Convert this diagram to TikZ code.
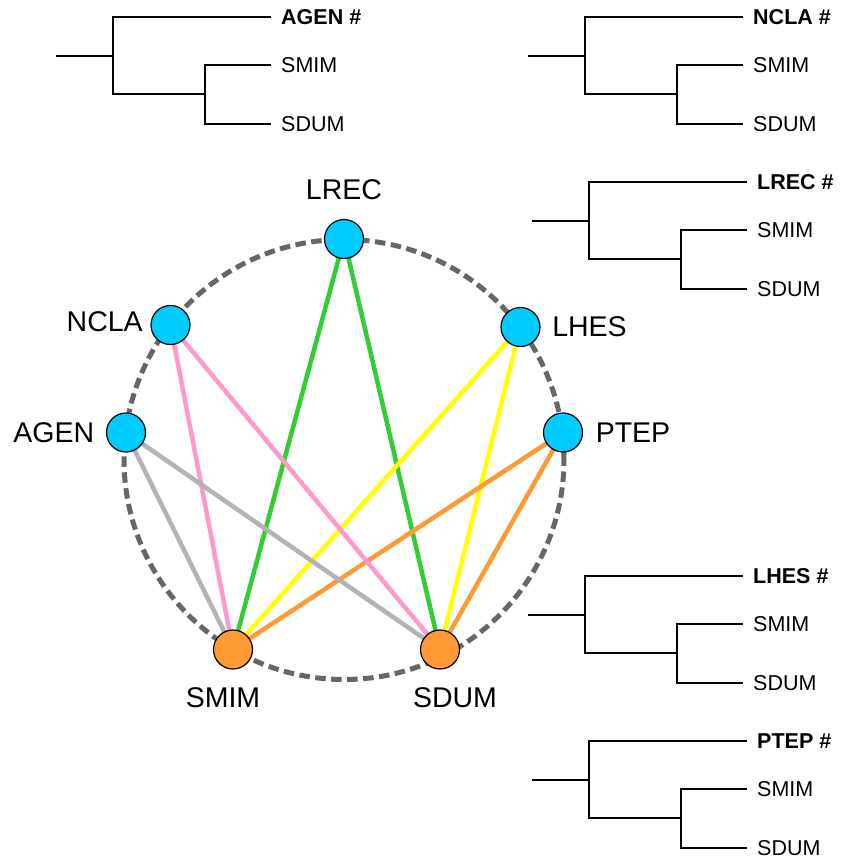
\documentclass[tikz,border=0pt]{standalone}
\usepackage{fontspec}
\setmainfont{Liberation Sans}
\usetikzlibrary{positioning, backgrounds}
\definecolor{sitecyan}{HTML}{00CCFF}
\definecolor{siteorange}{HTML}{FF9933}
\definecolor{ringgray}{HTML}{666666}
\definecolor{lgreen}{HTML}{33CC33}
\definecolor{lpink}{HTML}{FF99CC}
\definecolor{lgray}{HTML}{B3B3B3}
\definecolor{lyellow}{HTML}{FFFF00}
\definecolor{lorange}{HTML}{FF9933}

\begin{document}
\begin{tikzpicture}[x=1pt, y=-1pt,
        site/.style={circle, draw, line width=1.2pt, inner sep=0pt, minimum size=39pt},
        journal/.style={site, fill=sitecyan},
        author/.style={site, fill=siteorange},
        tag/.style={inner sep=0pt, font=\fontsize{28.5}{30}\selectfont},
        leaf/.style={anchor=west, inner xsep=10pt, inner ysep=0pt, font=\fontsize{21.5}{23}\selectfont},
        branch/.style={line width=2.4pt},
        ring/.style={draw=ringgray, line width=5pt, dash pattern=on 10.5pt off 5.5pt},
        link/.style={line width=4.5pt}]
        \useasboundingbox (0,0) rectangle (854,863);
        \coordinate (hub) at (344,459.5);
        \node[journal] (lrec) at (344,239) {};
        \node[journal] (ncla) at (170.5,325) {};
        \node[journal] (lhes) at (520.5,327) {};
        \node[journal] (agen) at (126,432.5) {};
        \node[journal] (ptep) at (563,432.5) {};
        \node[author] (smim) at (233,649.5) {};
        \node[author] (sdum) at (440,649.5) {};
        \node[tag, above=18.5pt of lrec] (lrec-l) {LREC};
        \node[tag, left=7.5pt of ncla, yshift=3pt] (ncla-l) {NCLA};
        \node[tag, left=11.5pt of agen] (agen-l) {AGEN};
        \node[tag, right=11.5pt of lhes] (lhes-l) {LHES};
        \node[tag, right=12.5pt of ptep] (ptep-l) {PTEP};
        \node[tag, below=18pt of smim, xshift=-10pt] (smim-l) {SMIM};
        \node[tag, below=18pt of sdum, xshift=15pt] (sdum-l) {SDUM};
        \begin{scope}[on background layer]
            \draw[ring] (hub) circle[radius=220pt];
            \foreach \s/\c in {lrec/lgreen, lhes/lyellow, ptep/lorange, ncla/lpink, agen/lgray}
                \draw[link, draw=\c] (\s.center) -- (smim.center) (\s.center) -- (sdum.center);
        \end{scope}
        \foreach \n/\x/\y in {AGEN/56/56, NCLA/528/56, LREC/532/221, LHES/528/615, PTEP/532/780} {
            \coordinate (\n-r) at (\x,\y);
            \coordinate (\n-a) at (\x+57,\y);
            \coordinate (\n-b) at (\x+149,\y+38);
            \node[leaf] (\n-t) at (\x+215,\y-39) {\bfseries\n\ \#};
            \node[leaf] (\n-s) at (\x+215,\y+9) {SMIM};
            \node[leaf] (\n-d) at (\x+215,\y+68) {SDUM};
            \draw[branch] (\n-r) -- (\n-a);
            \draw[branch] (\n-t.west) -| (\n-a) |- (\n-b);
            \draw[branch] (\n-s.west) -| (\n-b) |- (\n-d.west);
        }
\end{tikzpicture}
\end{document}
